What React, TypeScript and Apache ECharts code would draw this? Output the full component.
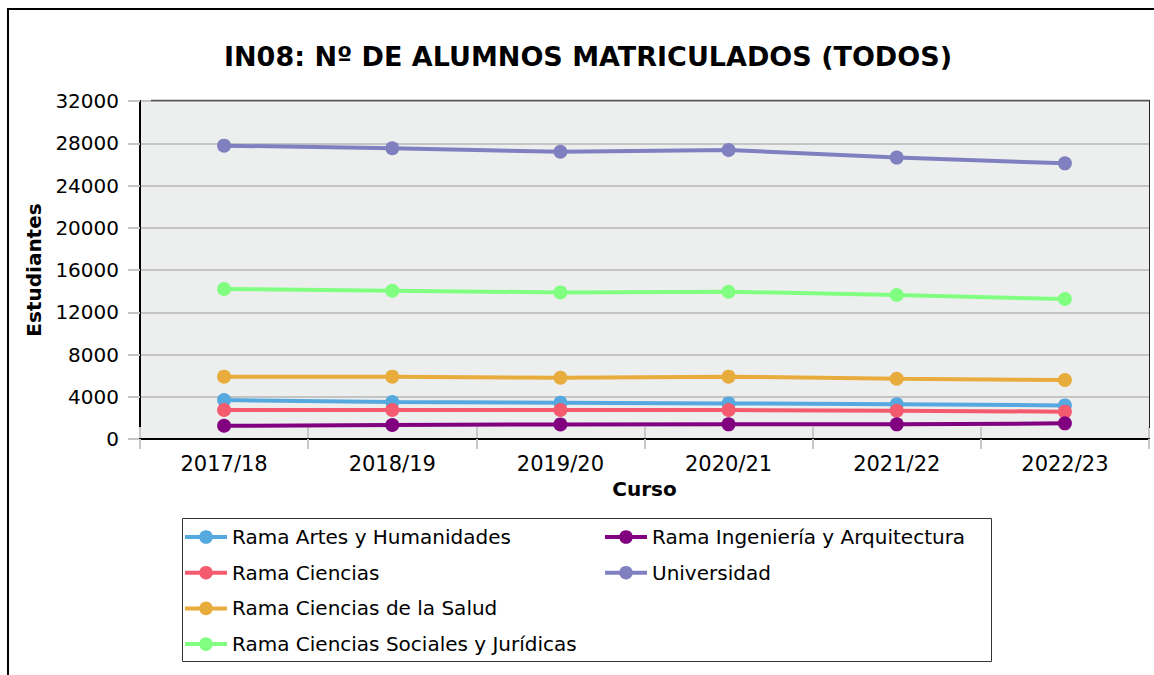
import React, { useEffect, useRef } from "react";
import * as echarts from "echarts";

const categories = ["2017/18", "2018/19", "2019/20", "2020/21", "2021/22", "2022/23"];
const seriesNames = [
  "Rama Artes y Humanidades",
  "Rama Ciencias",
  "Rama Ciencias de la Salud",
  "Rama Ciencias Sociales y Jurídicas",
  "Rama Ingeniería y Arquitectura",
  "Universidad",
];
const artes = [3690, 3500, 3440, 3370, 3280, 3180];
const ciencias = [2740, 2740, 2740, 2740, 2680, 2590];
const salud = [5900, 5900, 5800, 5900, 5710, 5580];
const sociales = [14200, 14040, 13880, 13945, 13630, 13250];
const ingenieria = [1250, 1320, 1380, 1390, 1390, 1480];
const universidad = [27775, 27525, 27200, 27360, 26640, 26100];
const seriesValues = [artes, ciencias, salud, sociales, ingenieria, universidad];
const colors = ["#56a9de", "#f45b6e", "#e8ac3c", "#80ff80", "#800080", "#8080c0"];
const yTicks = { min: 0, max: 32000, interval: 4000 };

const FONT = "DejaVu Sans";

export default function App() {
  const ref = useRef<HTMLDivElement>(null);
  useEffect(() => {
    if (!ref.current) return;
    const chart = echarts.init(ref.current, null, { renderer: "svg" });
    const legendCommon = {
      orient: "vertical",
      top: 522,
      itemWidth: 42,
      itemHeight: 17,
      itemGap: 15.7,
      lineStyle: { width: 4 },
      textStyle: { fontFamily: FONT, fontSize: 20, color: "#000", lineHeight: 20 },
    };
    chart.setOption({
      animation: false,
      backgroundColor: "#ffffff",
      title: {
        text: "IN08: Nº DE ALUMNOS MATRICULADOS (TODOS)",
        left: 583,
        top: 38,
        textAlign: "center",
        textStyle: { fontFamily: FONT, fontSize: 27, fontWeight: "bold", color: "#000" },
      },
      grid: {
        left: 140,
        top: 101,
        right: 5,
        bottom: 236,
        show: true,
        backgroundColor: "#edeeee",
        borderWidth: 0,
      },
      legend: [
        { ...legendCommon, data: seriesNames.slice(0, 4), left: 178 },
        { ...legendCommon, data: seriesNames.slice(4), left: 598 },
      ],
      xAxis: [
        {
          type: "category",
          data: categories,
          boundaryGap: true,
          name: "Curso",
          nameLocation: "middle",
          nameGap: 40,
          nameTextStyle: { fontFamily: FONT, fontSize: 20, fontWeight: "bold", color: "#000" },
          axisLine: { show: true, lineStyle: { color: "#000", width: 2 } },
          axisTick: { show: true, length: 10, lineStyle: { color: "#c8c8c8", width: 2 } },
          axisLabel: { interval: 0, margin: 14, fontFamily: FONT, fontSize: 21, color: "#000" },
          splitLine: { show: false },
          z: 5,
        },
        {
          type: "category",
          data: categories,
          boundaryGap: true,
          position: "bottom",
          axisLine: { show: false },
          axisTick: { show: true, inside: true, length: 12, lineStyle: { color: "#c8c8c8", width: 2 } },
          axisLabel: { show: false },
          splitLine: { show: false },
        },
      ],
      yAxis: {
        type: "value",
        min: yTicks.min,
        max: yTicks.max,
        interval: yTicks.interval,
        name: "Estudiantes",
        nameLocation: "middle",
        nameGap: 87,
        nameTextStyle: { fontFamily: FONT, fontSize: 20, fontWeight: "bold", color: "#000" },
        axisLine: { show: true, lineStyle: { color: "#000", width: 2 } },
        axisTick: { show: true, length: 12, lineStyle: { color: "#c4c4c4", width: 2 } },
        axisLabel: {
          margin: 21,
          fontFamily: FONT,
          fontSize: 20,
          color: "#000",
          formatter: (v: number) => String(v),
        },
        splitLine: { show: true, lineStyle: { color: "#c4c4c4", width: 2 } },
      },
      graphic: [
        {
          type: "rect",
          shape: { x: 8, y: 9, width: 1200, height: 720 },
          style: { fill: "none", stroke: "#000", lineWidth: 2 },
          silent: true,
        },
        {
          type: "line",
          shape: { x1: 151, y1: 100.5, x2: 1149.5, y2: 100.5 },
          style: { stroke: "#555", lineWidth: 1.5 },
          silent: true,
          z: 10,
        },
        {
          type: "line",
          shape: { x1: 1149.5, y1: 100, x2: 1149.5, y2: 428 },
          style: { stroke: "#222", lineWidth: 1 },
          silent: true,
          z: 10,
        },
        {
          type: "rect",
          shape: { x: 182.5, y: 518.5, width: 809, height: 143 },
          style: { fill: "none", stroke: "#333", lineWidth: 1 },
          silent: true,
        },
      ],
      series: seriesNames.map((name, i) => ({
        name,
        type: "line",
        data: seriesValues[i],
        xAxisIndex: 0,
        symbol: "circle",
        symbolSize: 14,
        lineStyle: { width: 4, color: colors[i] },
        itemStyle: { color: colors[i] },
        z: 3,
      })),
    });
    return () => chart.dispose();
  }, []);
  return (
    <div
      ref={ref}
      style={{ position: "fixed", left: 0, top: 0, width: 1154, height: 675 }}
    />
  );
}
